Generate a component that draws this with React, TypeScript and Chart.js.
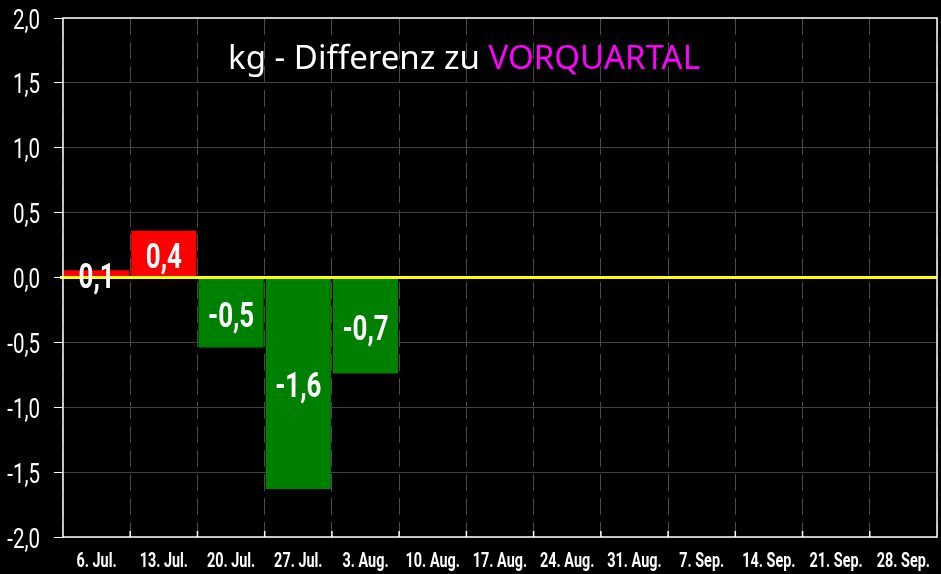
import React, { useEffect, useRef } from "react";
import { Chart, registerables } from "chart.js";

Chart.register(...registerables);

const categories = [
  "6. Jul.", "13. Jul.", "20. Jul.", "27. Jul.", "3. Aug.", "10. Aug.", "17. Aug.",
  "24. Aug.", "31. Aug.", "7. Sep.", "14. Sep.", "21. Sep.", "28. Sep.",
];
const diffValues: (number | null)[] = [0.055, 0.36, -0.54, -1.63, -0.74, null, null, null, null, null, null, null, null];
const yTickMin = -2;
const yTickMax = 2;
const yTickStep = 0.5;
const titleWhite = "kg - Differenz zu ";
const titleMagenta = "VORQUARTAL";

const FONT = 'Roboto, "DejaVu Sans", sans-serif';
const TITLE_FONT = '"Noto Sans", Roboto, sans-serif';

const fmt = (v: number) => (Math.round(v * 10) / 10).toFixed(1).replace(".", ",");

function drawNarrow(ctx: CanvasRenderingContext2D, text: string, x: number, y: number, align: CanvasTextAlign, sx: number) {
  ctx.save();
  ctx.translate(x, y);
  ctx.scale(sx, 1);
  ctx.textAlign = align;
  ctx.textBaseline = "alphabetic";
  ctx.fillText(text, 0, 0);
  ctx.restore();
}

const decorPlugin = {
  id: "decor",
  afterDatasetsDraw(chart: any) {
    const { ctx, chartArea, scales } = chart;
    const y0 = scales.y.getPixelForValue(0);
    ctx.save();
    // zero line
    ctx.strokeStyle = "#ffff00";
    ctx.lineWidth = 3;
    ctx.beginPath();
    ctx.moveTo(chartArea.left - 3, y0);
    ctx.lineTo(chartArea.right, y0);
    ctx.stroke();
    // data labels
    const meta = chart.getDatasetMeta(0);
    ctx.fillStyle = "#ffffff";
    const size = 35;
    ctx.font = `bold ${size}px ${FONT}`;
    meta.data.forEach((bar: any, i: number) => {
      const v = diffValues[i];
      if (v === null || v === undefined) return;
      const cy = (bar.y + bar.base) / 2;
      drawNarrow(ctx, fmt(v), bar.x, cy + size * 0.355 + 1.5, "center", 0.74);
    });
    ctx.restore();
  },
  afterDraw(chart: any) {
    const { ctx, chartArea, scales } = chart;
    ctx.save();
    // frame
    ctx.strokeStyle = "#ffffff";
    ctx.lineWidth = 1.5;
    ctx.strokeRect(chartArea.left, chartArea.top, chartArea.right - chartArea.left, chartArea.bottom - chartArea.top);
    // inward ticks at category boundaries
    const x = scales.x;
    const n = categories.length;
    for (let i = 1; i < n; i++) {
      const px = (x.getPixelForValue(i - 1) + x.getPixelForValue(i)) / 2;
      ctx.beginPath();
      ctx.moveTo(px, chartArea.bottom);
      ctx.lineTo(px, chartArea.bottom - 6);
      ctx.stroke();
    }
    // y tick labels
    ctx.fillStyle = "#ffffff";
    ctx.font = `27px ${FONT}`;
    const y = scales.y;
    y.ticks.forEach((t: any) => {
      const py = y.getPixelForValue(t.value);
      drawNarrow(ctx, fmt(t.value), chartArea.left - 23, py + 10.5, "right", 0.76);
    });
    // x tick labels
    ctx.font = `bold 20px ${FONT}`;
    categories.forEach((c, i) => {
      drawNarrow(ctx, c, x.getPixelForValue(i), chartArea.bottom + 30, "center", 0.72);
    });
    // title
    const tsize = 33;
    ctx.font = `${tsize}px ${TITLE_FONT}`;
    const w1 = ctx.measureText(titleWhite).width;
    const w2 = ctx.measureText(titleMagenta).width;
    const sx = 472 / (w1 + w2);
    const start = 464 - 236;
    ctx.fillStyle = "#ffffff";
    drawNarrow(ctx, titleWhite, start, 69, "left", sx);
    ctx.fillStyle = "#ff00ff";
    drawNarrow(ctx, titleMagenta, start + w1 * sx, 69, "left", sx);
    ctx.restore();
  },
};

export default function App() {
  const ref = useRef<HTMLCanvasElement | null>(null);
  useEffect(() => {
    document.body.style.margin = "0";
    document.body.style.background = "#000";
    if (!ref.current) return;
    const chart = new Chart(ref.current, {
      type: "bar",
      data: {
        labels: categories,
        datasets: [
          {
            data: diffValues,
            backgroundColor: diffValues.map((v) => (v !== null && v >= 0 ? "#ff0000" : "#008000")),
            borderWidth: 0,
            barPercentage: 0.97,
            categoryPercentage: 1,
          },
        ],
      },
      options: {
        animation: false,
        responsive: false,
        layout: { padding: { top: 18, right: 4, left: 0, bottom: 0 } },
        plugins: { legend: { display: false }, tooltip: { enabled: false }, title: { display: false } },
        scales: {
          x: {
            afterFit: (s: any) => { s.height = 37; s.paddingLeft = 0; s.paddingRight = 0; },
            grid: { color: "#4a4a4a", lineWidth: 1, drawTicks: false, offset: true },
            border: { display: false, dash: [17, 7] },
            ticks: { display: false, autoSkip: false },
          },
          y: {
            min: yTickMin,
            max: yTickMax,
            afterFit: (s: any) => { s.width = 63; s.paddingTop = 0; s.paddingBottom = 0; },
            grid: { color: "#404040", lineWidth: 1, drawTicks: true, tickLength: 9, tickColor: "#ffffff" },
            border: { display: false },
            ticks: { display: false, stepSize: yTickStep },
          },
        },
      },
      plugins: [decorPlugin],
    });
    return () => chart.destroy();
  }, []);
  return (
    <div style={{ position: "absolute", left: 0, top: 0, width: 941, height: 574, background: "#000" }}>
      <canvas ref={ref} width={941} height={574} />
    </div>
  );
}
